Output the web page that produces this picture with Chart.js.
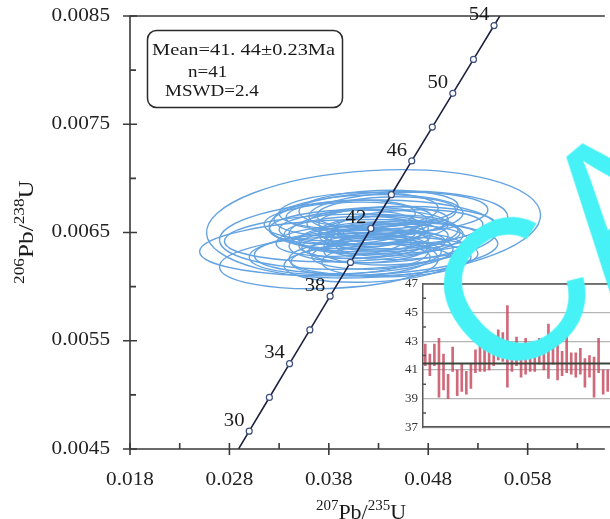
<!DOCTYPE html>
<html>
<head>
<meta charset="utf-8">
<script src="https://cdn.jsdelivr.net/npm/chart.js@4.4.1/dist/chart.umd.min.js"></script>
<style>
  html, body { margin: 0; padding: 0; background: #fff; }
  #wrap { position: relative; width: 610px; height: 519px; overflow: hidden; }
  #mainChart { position: absolute; left: 0; top: 0; }
  #insetChart { position: absolute; left: 400px; top: 270px; }
  #watermark {
    position: absolute; left: 0; top: 0;
    font-family: "Liberation Sans"; font-size: 200px; line-height: 200px;
    color: rgb(70, 242, 245); white-space: nowrap; pointer-events: none;
    transform-origin: 0 0; transform: translate(392px, 262px) rotate(-40deg);
  }
</style>
</head>
<body>
<div id="wrap">
  <canvas id="mainChart" width="610" height="519"></canvas>
  <canvas id="insetChart" width="210" height="170"></canvas>
  <div id="watermark">CA</div>
</div>
<script>
// concordia curve, marked every 2 Ma
const concAges = [28, 30, 32, 34, 36, 38, 40, 42, 44, 46, 48, 50, 52, 54, 56];
const concX = [0.02796, 0.02999, 0.03202, 0.03405, 0.03609, 0.03813, 0.04018, 0.04223, 0.04429, 0.04634, 0.04841, 0.05047, 0.05255, 0.05462, 0.05670];
const concY = [0.004353, 0.004665, 0.004976, 0.005288, 0.005600, 0.005912, 0.006224, 0.006537, 0.006849, 0.007161, 0.007474, 0.007786, 0.008099, 0.008412, 0.008725];
const labelAges = [30, 34, 38, 42, 46, 50, 54];

// zircon spots: 207Pb/235U, 206Pb/238U, 2s errors, error correlation
const spotX = [0.0425, 0.0410, 0.0400, 0.0440, 0.0445, 0.0395, 0.0420, 0.0430, 0.0415, 0.0405, 0.0450, 0.0435, 0.0410, 0.0425, 0.0440, 0.0400, 0.0390, 0.0455, 0.0420, 0.0430, 0.0415, 0.0445, 0.0405, 0.0435, 0.0420, 0.0460, 0.0395, 0.0425, 0.0412, 0.0448, 0.0438, 0.0402, 0.0428, 0.0418, 0.0452, 0.0392, 0.0432, 0.0408, 0.0442, 0.0422, 0.0380];
const spotY = [0.00658, 0.00648, 0.00636, 0.00660, 0.00652, 0.00645, 0.00665, 0.00640, 0.00655, 0.00632, 0.00668, 0.00628, 0.00670, 0.00645, 0.00650, 0.00660, 0.00630, 0.00642, 0.00622, 0.00672, 0.00640, 0.00635, 0.00650, 0.00660, 0.00635, 0.00655, 0.00655, 0.00652, 0.00625, 0.00625, 0.00668, 0.00666, 0.00630, 0.00660, 0.00648, 0.00642, 0.00645, 0.00638, 0.00640, 0.00648, 0.00622];
const errX = [0.0168, 0.0140, 0.0150, 0.0120, 0.0105, 0.0120, 0.0095, 0.0090, 0.0085, 0.0100, 0.0090, 0.0095, 0.0080, 0.0075, 0.0070, 0.0085, 0.0090, 0.0080, 0.0085, 0.0080, 0.0065, 0.0070, 0.0070, 0.0065, 0.0060, 0.0075, 0.0075, 0.0055, 0.0070, 0.0075, 0.0070, 0.0065, 0.0065, 0.0060, 0.0060, 0.0065, 0.0050, 0.0055, 0.0055, 0.0045, 0.0110];
const errY = [0.00050, 0.00032, 0.00026, 0.00028, 0.00022, 0.00022, 0.00020, 0.00018, 0.00016, 0.00020, 0.00019, 0.00018, 0.00017, 0.00015, 0.00016, 0.00018, 0.00019, 0.00017, 0.00018, 0.00017, 0.00014, 0.00015, 0.00015, 0.00014, 0.00013, 0.00016, 0.00016, 0.00013, 0.00015, 0.00016, 0.00015, 0.00014, 0.00014, 0.00013, 0.00013, 0.00014, 0.00012, 0.00012, 0.00012, 0.00011, 0.00024];
const spotRho = [0.16, 0.15, 0.14, 0.16, 0.15, 0.14, 0.15, 0.14, 0.15, 0.15, 0.16, 0.14, 0.14, 0.15, 0.15, 0.14, 0.14, 0.15, 0.14, 0.15, 0.15, 0.15, 0.14, 0.14, 0.15, 0.16, 0.14, 0.15, 0.14, 0.15, 0.15, 0.14, 0.15, 0.14, 0.15, 0.14, 0.15, 0.15, 0.15, 0.15, 0.15];

const xTicks = [0.018, 0.028, 0.038, 0.048, 0.058];
const xTickLabels = ["0.018", "0.028", "0.038", "0.048", "0.058"];
const xMinorTicks = [0.023, 0.033, 0.043, 0.053, 0.063];
const yTicks = [0.0045, 0.0055, 0.0065, 0.0075, 0.0085];
const yTickLabels = ["0.0045", "0.0055", "0.0065", "0.0075", "0.0085"];
const yMinorTicks = [0.0050, 0.0060, 0.0070, 0.0080];

const summaryLines = ["Mean=41. 44\u00B10.23Ma", "n=41", "MSWD=2.4"];

// inset: 206Pb/238U ages (Ma), 2s ranges
const ageHigh = [42.8, 42.1, 42.8, 43.2, 42.1, 40.7, 42.6, 41.0, 41.4, 40.9, 41.4, 42.4, 43.0, 42.5, 42.6, 42.9, 43.8, 43.6, 45.5, 42.7, 43.3, 42.0, 43.2, 42.9, 42.6, 43.2, 42.8, 44.2, 42.9, 42.9, 42.3, 43.4, 42.2, 42.2, 42.5, 41.8, 42.0, 41.9, 43.2, 41.0, 41.0];
const ageLow = [41.3, 40.6, 41.3, 39.1, 39.6, 39.0, 40.9, 39.2, 39.5, 39.3, 39.7, 40.8, 40.9, 40.9, 41.0, 41.3, 41.7, 41.6, 39.8, 40.9, 41.3, 40.5, 40.7, 40.9, 40.9, 41.4, 41.0, 40.4, 41.4, 40.3, 40.6, 40.8, 40.7, 40.5, 40.7, 39.8, 40.5, 39.1, 40.8, 39.3, 39.5];
const meanAge = 41.44;
const insetTicks = [37, 39, 41, 43, 45, 47];
const insetMinorTicks = [38, 40, 42, 44, 46];

const SERIF = "Liberation Serif";
const AXIS_COLOR = "#3a3a3a";

function drawText(ctx, text, x, y, font, align, sx) {
  ctx.save();
  ctx.translate(x, y);
  ctx.scale(sx || 1, 1);
  ctx.font = font;
  ctx.textAlign = align || "left";
  ctx.fillText(text, 0, 0);
  ctx.restore();
}

// text with superscripts: parts = [[text, isSup], ...]
function drawRich(ctx, parts, x, y, size, supSize, sx) {
  ctx.save();
  ctx.translate(x, y);
  ctx.scale(sx || 1, 1);
  let total = 0;
  parts.forEach(p => {
    ctx.font = (p[1] ? supSize : size) + "px " + SERIF;
    total += ctx.measureText(p[0]).width;
  });
  let cx = -total / 2;
  ctx.textAlign = "left";
  ctx.textBaseline = "alphabetic";
  parts.forEach(p => {
    ctx.font = (p[1] ? supSize : size) + "px " + SERIF;
    ctx.fillText(p[0], cx, p[1] ? -size * 0.42 : 0);
    cx += ctx.measureText(p[0]).width;
  });
  ctx.restore();
}

function drawEllipses(chart) {
  const { ctx, chartArea, scales } = chart;
  const xs = scales.x, ys = scales.y;
  const pxX = Math.abs(xs.getPixelForValue(xs.max) - xs.getPixelForValue(xs.min)) / (xs.max - xs.min);
  const pxY = Math.abs(ys.getPixelForValue(ys.max) - ys.getPixelForValue(ys.min)) / (ys.max - ys.min);
  ctx.save();
  ctx.beginPath();
  ctx.rect(chartArea.left, chartArea.top, chartArea.right - chartArea.left, chartArea.bottom - chartArea.top);
  ctx.clip();
  ctx.strokeStyle = "rgb(100, 163, 225)";
  ctx.lineWidth = 1.4;
  spotX.forEach((sx, i) => {
    const cx = xs.getPixelForValue(sx);
    const cy = ys.getPixelForValue(spotY[i]);
    const a = errX[i] * pxX;
    const b = errY[i] * pxY;
    const c = -spotRho[i] * a * b;
    const half = (a * a + b * b) / 2;
    const root = Math.sqrt(((a * a - b * b) / 2) ** 2 + c * c);
    const r1 = Math.sqrt(half + root);
    const r2 = Math.sqrt(Math.max(half - root, 0.5));
    const angle = 0.5 * Math.atan2(2 * c, a * a - b * b);
    ctx.beginPath();
    ctx.ellipse(cx, cy, r1, r2, angle, 0, Math.PI * 2);
    ctx.stroke();
  });
  ctx.restore();
}

function drawAxes(chart) {
  const { ctx, chartArea, scales } = chart;
  const { left, right, top, bottom } = chartArea;
  ctx.save();
  ctx.strokeStyle = AXIS_COLOR;
  ctx.lineWidth = 1.6;
  ctx.beginPath();
  ctx.moveTo(right, top); ctx.lineTo(left, top); ctx.lineTo(left, bottom); ctx.lineTo(right, bottom);
  ctx.stroke();

  ctx.beginPath();
  yTicks.forEach(v => {
    const y = scales.y.getPixelForValue(v);
    ctx.moveTo(left - 7, y); ctx.lineTo(left + 7, y);
  });
  yMinorTicks.forEach(v => {
    const y = scales.y.getPixelForValue(v);
    ctx.moveTo(left, y); ctx.lineTo(left + 6, y);
  });
  xTicks.forEach(v => {
    const x = scales.x.getPixelForValue(v);
    ctx.moveTo(x, bottom - 6); ctx.lineTo(x, bottom + 6);
  });
  xMinorTicks.forEach(v => {
    const x = scales.x.getPixelForValue(v);
    ctx.moveTo(x, bottom - 6); ctx.lineTo(x, bottom);
  });
  ctx.stroke();

  ctx.fillStyle = "#222";
  ctx.textBaseline = "middle";
  yTicks.forEach((v, i) => {
    drawText(ctx, yTickLabels[i], left - 20, scales.y.getPixelForValue(v), "18px " + SERIF, "right", 1.18);
  });
  xTicks.forEach((v, i) => {
    drawText(ctx, xTickLabels[i], scales.x.getPixelForValue(v), bottom + 31, "18px " + SERIF, "center", 1.18);
  });
  ctx.restore();
}

function drawAgeLabels(chart) {
  const { ctx, scales } = chart;
  ctx.save();
  ctx.fillStyle = "#1a1a1a";
  ctx.textBaseline = "middle";
  labelAges.forEach(age => {
    const i = concAges.indexOf(age);
    const x = scales.x.getPixelForValue(concX[i]) - 15;
    const y = scales.y.getPixelForValue(concY[i]) - 10;
    drawText(ctx, String(age), x, y, "18px " + SERIF, "center", 1.15);
  });
  ctx.restore();
}

function drawSummary(chart) {
  const { ctx } = chart;
  ctx.save();
  ctx.fillStyle = "#fff";
  ctx.strokeStyle = "#2a2a2a";
  ctx.lineWidth = 1.5;
  ctx.beginPath();
  ctx.roundRect(147.5, 30.5, 195, 77, 9);
  ctx.fill();
  ctx.stroke();
  ctx.fillStyle = "#1a1a1a";
  ctx.textBaseline = "alphabetic";
  drawText(ctx, summaryLines[0], 152, 55, "17px " + SERIF, "left", 1.2);
  drawText(ctx, summaryLines[1], 188, 77, "17px " + SERIF, "left", 1.12);
  drawText(ctx, summaryLines[2], 165, 96, "17px " + SERIF, "left", 1.12);
  ctx.restore();
}

function drawTitles(chart) {
  const { ctx } = chart;
  ctx.save();
  ctx.fillStyle = "#1a1a1a";
  drawRich(ctx, [["207", true], ["Pb/", false], ["235", true], ["U", false]], 361, 519, 22, 15, 1.0);
  ctx.translate(33, 232);
  ctx.rotate(-Math.PI / 2);
  drawRich(ctx, [["206", true], ["Pb/", false], ["238", true], ["U", false]], 0, 0, 22, 15, 1.15);
  ctx.restore();
}

const concordiaPlugin = {
  id: "concordiaExtras",
  beforeDatasetsDraw(chart) { drawEllipses(chart); },
  afterDraw(chart) {
    drawAxes(chart);
    drawAgeLabels(chart);
    drawSummary(chart);
    drawTitles(chart);
  }
};

const insetPlugin = {
  id: "insetExtras",
  beforeDraw(chart) {
    const { ctx, chartArea } = chart;
    ctx.save();
    ctx.fillStyle = "#fff";
    ctx.fillRect(chartArea.left, chartArea.top, chartArea.right - chartArea.left, chartArea.bottom - chartArea.top);
    ctx.restore();
  },
  afterDatasetsDraw(chart) {
    const { ctx, chartArea, scales } = chart;
    const y = scales.y.getPixelForValue(meanAge);
    ctx.save();
    ctx.strokeStyle = "#3b463b";
    ctx.lineWidth = 2;
    ctx.beginPath();
    ctx.moveTo(chartArea.left, y); ctx.lineTo(chartArea.right, y);
    ctx.stroke();
    ctx.restore();
  },
  afterDraw(chart) {
    const { ctx, chartArea, scales } = chart;
    ctx.save();
    ctx.strokeStyle = "#555";
    ctx.lineWidth = 1.5;
    ctx.beginPath();
    ctx.moveTo(chartArea.left, chartArea.top); ctx.lineTo(chartArea.right, chartArea.top);
    insetMinorTicks.forEach(v => {
      const y = scales.y.getPixelForValue(v);
      ctx.moveTo(chartArea.left, y); ctx.lineTo(chartArea.left + 3, y);
    });
    ctx.stroke();
    ctx.restore();
  }
};

function init() {
  new Chart(document.getElementById("mainChart"), {
    type: "scatter",
    data: {
      datasets: [{
        data: concX.map((x, i) => ({ x: x, y: concY[i] })),
        showLine: true,
        borderColor: "#1c2140",
        borderWidth: 1.6,
        pointRadius: 3,
        pointBackgroundColor: "#fff",
        pointBorderColor: "#3d4f7c",
        pointBorderWidth: 1.2
      }]
    },
    options: {
      responsive: false,
      animation: false,
      layout: { padding: { top: 16, right: 0, left: 0, bottom: 0 } },
      plugins: { legend: { display: false }, tooltip: { enabled: false } },
      scales: {
        x: {
          type: "linear", min: 0.018, max: 0.06576,
          ticks: { display: false }, grid: { display: false }, border: { display: false },
          afterFit: s => { s.height = 70; }
        },
        y: {
          type: "linear", min: 0.0045, max: 0.0085,
          ticks: { display: false }, grid: { display: false }, border: { display: false },
          afterFit: s => { s.width = 130; }
        }
      }
    },
    plugins: [concordiaPlugin]
  });

  new Chart(document.getElementById("insetChart"), {
    type: "bar",
    data: {
      labels: ageHigh.map((_, i) => i + 1),
      datasets: [{
        data: ageHigh.map((h, i) => [ageLow[i], h]),
        backgroundColor: "rgba(200, 80, 100, 0.85)",
        barThickness: 2
      }]
    },
    options: {
      responsive: false,
      animation: false,
      layout: { padding: { top: 14, right: 0, left: 0, bottom: 0 } },
      plugins: { legend: { display: false }, tooltip: { enabled: false } },
      scales: {
        x: {
          offset: true,
          ticks: { display: false }, grid: { display: false },
          border: { display: true, color: "#555", width: 1.5 },
          afterFit: s => { s.height = 3; }
        },
        y: {
          min: 37, max: 47,
          afterBuildTicks: s => { s.ticks = insetTicks.map(v => ({ value: v })); },
          ticks: { font: { family: SERIF, size: 13 }, color: "#333", padding: 5 },
          grid: { color: "#b5b5b5", lineWidth: 1.2, drawTicks: false },
          border: { color: "#555", width: 1.5 },
          afterFit: s => { s.width = 23; }
        }
      }
    },
    plugins: [insetPlugin]
  });
}

document.addEventListener("DOMContentLoaded", init);
</script>
</body>
</html>
